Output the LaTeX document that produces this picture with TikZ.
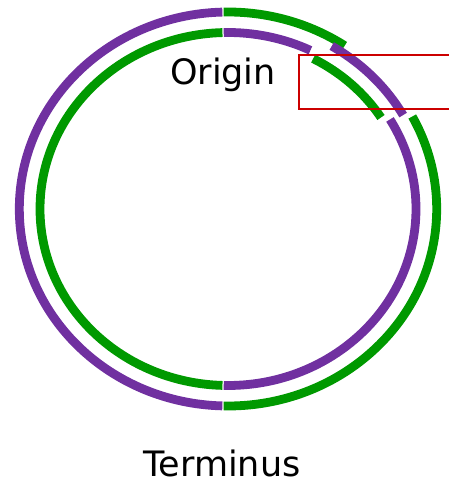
\documentclass[tikz,border=0pt]{standalone}
\usepackage{fontspec}
\setmainfont{DejaVu Sans}
\definecolor{ringpurple}{HTML}{7030A0}
\definecolor{ringgreen}{HTML}{009900}
\definecolor{boxred}{HTML}{CC0000}
\begin{document}
\begin{tikzpicture}[x=1pt, y=1pt,
    ring/.style={line width=8.8pt, line cap=butt},
    ringlabel/.style={font=\fontsize{35}{42}\selectfont, inner sep=0pt},
    markbox/.style={draw=boxred, line width=2.2pt}
  ]
  \useasboundingbox (0,0) rectangle (448,484);
  \coordinate (c) at (228,275);

  % Outer ring
  \draw[ring, ringpurple] (c) ++(91.55:208.7pt and 197pt)
    arc[start angle=91.55, end angle=268.45, x radius=208.7pt, y radius=197pt];
  \draw[ring, ringgreen] (c) ++(-91.2:208.7pt and 197pt)
    arc[start angle=-91.2, end angle=28, x radius=208.7pt, y radius=197pt];
  \draw[ring, ringgreen] (c) ++(56:208.7pt and 197pt)
    arc[start angle=56, end angle=91.2, x radius=208.7pt, y radius=197pt];

  % Inner ring
  \draw[ring, ringgreen] (c) ++(91.7:188pt and 176.5pt)
    arc[start angle=91.7, end angle=268.3, x radius=188pt, y radius=176.5pt];
  \draw[ring, ringpurple] (c) ++(-91.3:188pt and 176.5pt)
    arc[start angle=-91.3, end angle=30.5, x radius=188pt, y radius=176.5pt];
  \draw[ring, ringpurple] (c) ++(64:188pt and 176.5pt)
    arc[start angle=64, end angle=91.3, x radius=188pt, y radius=176.5pt];

  % Inverted segment
  \draw[ring, ringpurple] (c) ++(59:201.4pt and 190.1pt)
    arc[start angle=59, end angle=29.6, x radius=201.4pt, y radius=190.1pt];
  \draw[ring, ringgreen] (c) ++(62:181.4pt and 170.3pt)
    arc[start angle=62, end angle=32.5, x radius=181.4pt, y radius=170.3pt];

  % Highlight box
  \draw[markbox] (299,429) rectangle (470,375);

  % Labels
  \node[ringlabel] (origin) at (223,409) {Origin};
  \node[ringlabel] (terminus) at (222,21) {Terminus};
\end{tikzpicture}
\end{document}
